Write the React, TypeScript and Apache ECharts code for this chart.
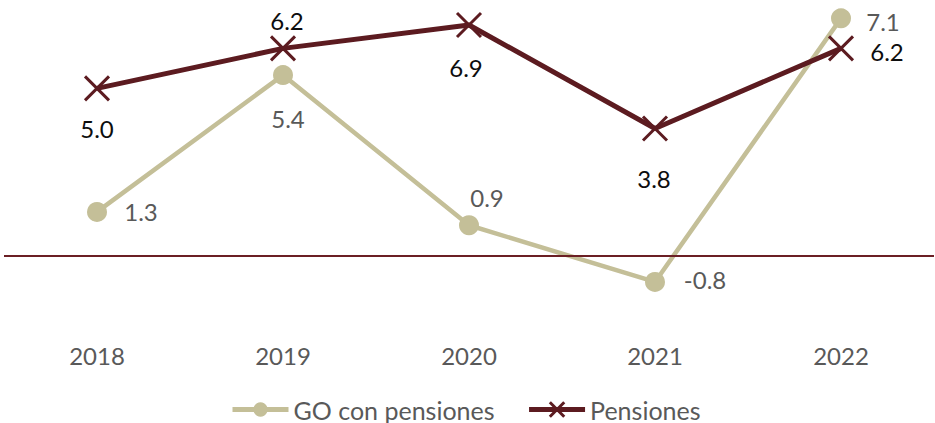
import React, { useEffect, useRef } from "react";
import * as echarts from "echarts";

const years = ["2018", "2019", "2020", "2021", "2022"];
const goConPensiones = [1.3, 5.4, 0.9, -0.8, 7.1];
const pensiones = [5.0, 6.2, 6.9, 3.8, 6.2];

const goLabelOffsets = [[44, 0], [5, 43], [18, -28], [50, -2], [42, 3]];
const penLabelOffsets = [[0, 40], [4, -28], [-3, 42], [-1, 50], [46, 3]];

const GO_COLOR = "#c4bf98";
const PEN_COLOR = "#5c1b20";
const ZERO_COLOR = "#6b1f24";
const FONT = "Lato";

export default function App() {
  const ref = useRef<HTMLDivElement>(null);
  useEffect(() => {
    if (!ref.current) return;
    const chart = echarts.init(ref.current, null, { renderer: "svg" });
    const labelBase = {
      show: true,
      position: "inside",
      align: "center",
      verticalAlign: "middle",
      fontSize: 24,
      fontFamily: FONT,
      formatter: (p: any) => Number(p.value).toFixed(1),
    };
    chart.setOption({
      animation: false,
      grid: { left: 4, right: 1, top: 5, bottom: 101, containLabel: false },
      legend: {
        top: 392,
        left: 225,
        itemWidth: 56,
        itemHeight: 18,
        itemGap: 32,
        textStyle: { fontSize: 25, fontFamily: FONT, color: "#595959" },
        data: [
          { name: "GO con pensiones", lineStyle: { width: 5, color: GO_COLOR } },
          { name: "Pensiones", lineStyle: { width: 5 }, itemStyle: { borderWidth: 3 } },
        ],
      },
      xAxis: {
        type: "category",
        data: years,
        boundaryGap: true,
        axisLine: { show: false },
        axisTick: { show: false },
        axisLabel: { margin: 21, fontSize: 24, fontFamily: FONT, color: "#595959" },
      },
      yAxis: {
        type: "value",
        show: false,
        min: -2,
        max: 7.5,
        splitLine: { show: false },
      },
      series: [
        {
          name: "GO con pensiones",
          type: "line",
          symbol: "circle",
          symbolSize: 20,
          lineStyle: { color: GO_COLOR, width: 4.5 },
          itemStyle: { color: GO_COLOR },
          label: { ...labelBase, color: "#595959" },
          data: goConPensiones.map((v, i) => ({ value: v, label: { offset: goLabelOffsets[i] } })),
          markLine: {
            silent: true,
            symbol: "none",
            label: { show: false },
            lineStyle: { color: ZERO_COLOR, width: 2, type: "solid", opacity: 1 },
            data: [{ yAxis: 0 }],
          },
          z: 2,
        },
        {
          name: "Pensiones",
          type: "line",
          symbol: "path://M0,0L10,10M0,10L10,0",
          symbolSize: 24,
          lineStyle: { color: PEN_COLOR, width: 5 },
          itemStyle: { color: PEN_COLOR, borderColor: PEN_COLOR, borderWidth: 3 },
          label: { ...labelBase, color: "#0d0d0d" },
          data: pensiones.map((v, i) => ({ value: v, label: { offset: penLabelOffsets[i] } })),
          z: 3,
        },
      ],
    });
    return () => chart.dispose();
  }, []);
  return (
    <div
      ref={ref}
      style={{ position: "fixed", left: 0, top: 0, width: 935, height: 423, background: "#fff" }}
    />
  );
}
